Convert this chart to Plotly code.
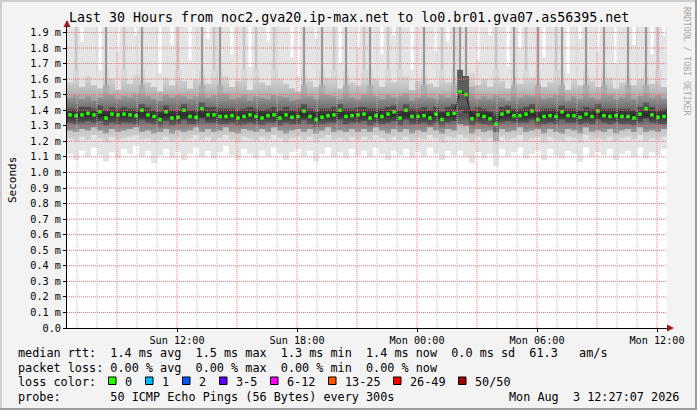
import pandas as pd
import plotly.graph_objects as go

# ---------------- data (values in milliseconds) ----------------
# 100 buckets of 18 minutes, Sun 06:30 .. Mon 12:30
median = [1.37, 1.365, 1.37, 1.38, 1.37, 1.39, 1.35, 1.375, 1.37, 1.375,
          1.37, 1.365, 1.40, 1.37, 1.36, 1.34, 1.39, 1.35, 1.355, 1.40,
          1.36, 1.355, 1.41, 1.37, 1.37, 1.36, 1.36, 1.365, 1.35, 1.36,
          1.37, 1.36, 1.35, 1.365, 1.37, 1.35, 1.37, 1.355, 1.36, 1.395,
          1.36, 1.34, 1.355, 1.365, 1.37, 1.40, 1.36, 1.365, 1.37, 1.375,
          1.35, 1.365, 1.36, 1.375, 1.39, 1.35, 1.40, 1.36, 1.36, 1.365,
          1.35, 1.375, 1.34, 1.375, 1.38, 1.52, 1.50, 1.345, 1.37, 1.36,
          1.345, 1.31, 1.375, 1.39, 1.365, 1.365, 1.375, 1.395, 1.34, 1.36,
          1.365, 1.36, 1.39, 1.365, 1.365, 1.355, 1.375, 1.36, 1.395, 1.365,
          1.36, 1.365, 1.36, 1.36, 1.35, 1.375, 1.41, 1.37, 1.355, 1.36]

# outer smoke: lowest / highest ping
ping_min = [1.12, 1.08, 1.14, 1.10, 1.16, 1.11, 1.07, 1.13, 1.09, 1.15,
            1.12, 1.17, 1.10, 1.14, 1.06, 1.11, 1.15, 1.09, 1.13, 1.08,
            1.12, 1.16, 1.10, 1.14, 1.09, 1.13, 1.17, 1.11, 1.08, 1.15,
            1.12, 1.09, 1.14, 1.10, 1.16, 1.12, 1.08, 1.13, 1.15, 1.10,
            1.14, 1.07, 1.12, 1.16, 1.10, 1.13, 1.09, 1.15, 1.11, 1.14,
            1.10, 1.16, 1.12, 1.08, 1.14, 1.11, 1.15, 1.09, 1.13, 1.10,
            1.16, 1.12, 1.08, 1.14, 1.11, 1.14, 1.10, 1.06, 1.13, 1.09,
            1.12, 1.04, 1.15, 1.10, 1.13, 1.16, 1.09, 1.12, 1.14, 1.08,
            1.15, 1.11, 1.09, 1.14, 1.12, 1.07, 1.16, 1.10, 1.13, 1.11,
            1.15, 1.08, 1.12, 1.14, 1.10, 1.16, 1.09, 1.13, 1.11, 1.15]
ping_max = [1.95, 1.95, 1.84, 1.95, 1.95, 1.66, 1.95, 1.95, 1.78, 1.95,
            1.95, 1.88, 1.95, 1.95, 1.95, 1.64, 1.95, 1.82, 1.95, 1.95,
            1.72, 1.95, 1.95, 1.86, 1.95, 1.95, 1.95, 1.76, 1.95, 1.95,
            1.68, 1.95, 1.95, 1.84, 1.95, 1.95, 1.95, 1.74, 1.62, 1.95,
            1.95, 1.86, 1.95, 1.95, 1.95, 1.70, 1.95, 1.95, 1.80, 1.95,
            1.95, 1.95, 1.76, 1.95, 1.88, 1.95, 1.95, 1.66, 1.95, 1.95,
            1.95, 1.78, 1.95, 1.84, 1.95, 1.95, 1.95, 1.95, 1.72, 1.95,
            1.88, 1.95, 1.95, 1.68, 1.95, 1.80, 1.95, 1.95, 1.95, 1.74,
            1.95, 1.95, 1.95, 1.64, 1.95, 1.86, 1.95, 1.95, 1.78, 1.95,
            1.95, 1.70, 1.95, 1.95, 1.82, 1.95, 1.95, 1.76, 1.95, 1.88]

# second smoke layer
p10 = [1.22, 1.20, 1.23, 1.21, 1.24, 1.22, 1.19, 1.23, 1.21, 1.22,
       1.23, 1.24, 1.21, 1.22, 1.19, 1.21, 1.23, 1.20, 1.22, 1.20,
       1.22, 1.24, 1.21, 1.23, 1.20, 1.22, 1.24, 1.21, 1.19, 1.23,
       1.22, 1.20, 1.23, 1.21, 1.24, 1.22, 1.19, 1.22, 1.23, 1.21,
       1.23, 1.19, 1.22, 1.24, 1.21, 1.22, 1.20, 1.23, 1.21, 1.23,
       1.21, 1.24, 1.22, 1.20, 1.23, 1.21, 1.23, 1.20, 1.22, 1.21,
       1.24, 1.22, 1.19, 1.23, 1.22, 1.24, 1.22, 1.19, 1.23, 1.20,
       1.22, 1.12, 1.23, 1.21, 1.22, 1.24, 1.20, 1.22, 1.23, 1.19,
       1.23, 1.21, 1.20, 1.23, 1.22, 1.19, 1.24, 1.21, 1.22, 1.21,
       1.23, 1.20, 1.22, 1.23, 1.21, 1.24, 1.20, 1.22, 1.21, 1.23]
p90 = [1.58, 1.95, 1.55, 1.62, 1.56, 1.54, 1.95, 1.60, 1.53, 1.95,
       1.57, 1.63, 1.95, 1.58, 1.55, 1.52, 1.61, 1.56, 1.95, 1.59,
       1.54, 1.60, 1.95, 1.57, 1.95, 1.95, 1.62, 1.55, 1.59, 1.95,
       1.53, 1.95, 1.58, 1.56, 1.95, 1.60, 1.57, 1.54, 1.52, 1.95,
       1.59, 1.55, 1.95, 1.61, 1.95, 1.54, 1.95, 1.58, 1.56, 1.95,
       1.95, 1.60, 1.55, 1.95, 1.58, 1.95, 1.62, 1.53, 1.59, 1.95,
       1.57, 1.55, 1.95, 1.58, 1.95, 1.95, 1.95, 1.64, 1.56, 1.60,
       1.55, 1.95, 1.59, 1.54, 1.95, 1.57, 1.95, 1.61, 1.95, 1.55,
       1.58, 1.95, 1.95, 1.53, 1.60, 1.56, 1.95, 1.59, 1.55, 1.95,
       1.61, 1.54, 1.58, 1.95, 1.56, 1.60, 1.95, 1.57, 1.95, 1.55]

# third smoke layer
p25 = [1.27, 1.26, 1.28, 1.27, 1.29, 1.27, 1.25, 1.28, 1.26, 1.27,
       1.28, 1.29, 1.26, 1.27, 1.25, 1.26, 1.28, 1.25, 1.27, 1.26,
       1.27, 1.29, 1.26, 1.28, 1.26, 1.27, 1.29, 1.26, 1.25, 1.28,
       1.27, 1.26, 1.28, 1.26, 1.29, 1.27, 1.25, 1.27, 1.28, 1.26,
       1.28, 1.25, 1.27, 1.29, 1.26, 1.27, 1.26, 1.28, 1.26, 1.28,
       1.26, 1.29, 1.27, 1.25, 1.28, 1.26, 1.28, 1.25, 1.27, 1.26,
       1.29, 1.27, 1.25, 1.28, 1.27, 1.31, 1.30, 1.25, 1.28, 1.26,
       1.27, 1.20, 1.28, 1.26, 1.27, 1.29, 1.26, 1.27, 1.28, 1.25,
       1.28, 1.26, 1.25, 1.28, 1.27, 1.25, 1.29, 1.26, 1.27, 1.26,
       1.28, 1.25, 1.27, 1.28, 1.26, 1.29, 1.26, 1.27, 1.26, 1.28]
p75 = [1.48, 1.50, 1.47, 1.49, 1.46, 1.48, 1.95, 1.50, 1.47, 1.49,
       1.48, 1.51, 1.95, 1.49, 1.47, 1.46, 1.50, 1.48, 1.50, 1.49,
       1.47, 1.49, 1.95, 1.48, 1.50, 1.95, 1.51, 1.47, 1.48, 1.50,
       1.46, 1.49, 1.48, 1.47, 1.50, 1.49, 1.48, 1.46, 1.47, 1.95,
       1.49, 1.47, 1.95, 1.50, 1.49, 1.47, 1.95, 1.48, 1.47, 1.50,
       1.95, 1.49, 1.47, 1.50, 1.48, 1.49, 1.51, 1.46, 1.48, 1.95,
       1.48, 1.47, 1.50, 1.48, 1.95, 1.95, 1.95, 1.55, 1.47, 1.49,
       1.47, 1.50, 1.48, 1.46, 1.95, 1.48, 1.50, 1.49, 1.95, 1.47,
       1.48, 1.50, 1.95, 1.46, 1.49, 1.47, 1.95, 1.48, 1.47, 1.95,
       1.50, 1.47, 1.48, 1.95, 1.47, 1.49, 1.95, 1.48, 1.50, 1.47]

# dark core around the median
p40 = [1.32, 1.31, 1.32, 1.33, 1.32, 1.33, 1.30, 1.32, 1.31, 1.32,
       1.32, 1.31, 1.34, 1.32, 1.31, 1.29, 1.33, 1.30, 1.31, 1.34,
       1.31, 1.31, 1.35, 1.32, 1.32, 1.31, 1.31, 1.32, 1.30, 1.31,
       1.32, 1.31, 1.30, 1.32, 1.32, 1.30, 1.32, 1.31, 1.31, 1.34,
       1.31, 1.29, 1.31, 1.32, 1.32, 1.34, 1.31, 1.32, 1.32, 1.33,
       1.30, 1.32, 1.31, 1.32, 1.33, 1.30, 1.34, 1.31, 1.31, 1.32,
       1.30, 1.32, 1.29, 1.32, 1.33, 1.40, 1.38, 1.30, 1.32, 1.31,
       1.30, 1.26, 1.32, 1.33, 1.32, 1.32, 1.32, 1.34, 1.29, 1.31,
       1.32, 1.31, 1.34, 1.32, 1.32, 1.31, 1.32, 1.31, 1.34, 1.32,
       1.31, 1.32, 1.31, 1.31, 1.30, 1.32, 1.35, 1.32, 1.31, 1.31]
p60 = [1.41, 1.41, 1.42, 1.42, 1.41, 1.43, 1.40, 1.42, 1.41, 1.42,
       1.41, 1.41, 1.44, 1.42, 1.40, 1.39, 1.43, 1.40, 1.40, 1.44,
       1.40, 1.40, 1.45, 1.42, 1.42, 1.41, 1.41, 1.41, 1.40, 1.41,
       1.42, 1.41, 1.40, 1.41, 1.42, 1.40, 1.42, 1.40, 1.41, 1.44,
       1.41, 1.39, 1.41, 1.41, 1.42, 1.44, 1.41, 1.41, 1.42, 1.42,
       1.41, 1.41, 1.41, 1.42, 1.43, 1.40, 1.44, 1.41, 1.41, 1.42,
       1.40, 1.42, 1.39, 1.42, 1.44, 1.66, 1.62, 1.40, 1.42, 1.41,
       1.39, 1.36, 1.42, 1.43, 1.41, 1.41, 1.42, 1.44, 1.39, 1.41,
       1.41, 1.41, 1.43, 1.41, 1.41, 1.40, 1.42, 1.41, 1.44, 1.41,
       1.41, 1.41, 1.41, 1.41, 1.40, 1.42, 1.45, 1.42, 1.40, 1.41]

y_tick_values = [0.0, 0.1, 0.2, 0.3, 0.4, 0.5, 0.6, 0.7, 0.8, 0.9,
                 1.0, 1.1, 1.2, 1.3, 1.4, 1.5, 1.6, 1.7, 1.8, 1.9]
y_tick_labels = ["0.0", "0.1 m", "0.2 m", "0.3 m", "0.4 m", "0.5 m", "0.6 m",
                 "0.7 m", "0.8 m", "0.9 m", "1.0 m", "1.1 m", "1.2 m", "1.3 m",
                 "1.4 m", "1.5 m", "1.6 m", "1.7 m", "1.8 m", "1.9 m"]
x_tick_times = ["2026-08-02 12:00", "2026-08-02 18:00", "2026-08-03 00:00",
                "2026-08-03 06:00", "2026-08-03 12:00"]
x_tick_labels = ["Sun 12:00", "Sun 18:00", "Mon 00:00", "Mon 06:00", "Mon 12:00"]

rtt_stats = [1.4, 1.5, 1.3, 1.4]      # avg, max, min, now
rtt_sd = 0.0
rtt_ams = 61.3
loss_stats = [0.00, 0.00, 0.00, 0.00]  # avg, max, min, now
loss_labels = ["0", "1", "2", "3-5", "6-12", "13-25", "26-49", "50/50"]
loss_colors = ["#26ff00", "#00b8ff", "#0059ff", "#5e00ff",
               "#ff00ff", "#ff5500", "#ff0000", "#a10000"]

# ---------------- geometry ----------------
W, H = 697, 410
PL, PR, PT, PB = 67, 667, 27, 328
TOP = 1.95
start = pd.Timestamp("2026-08-02 06:30")
end = start + pd.Timedelta(hours=30)
step = pd.Timedelta(minutes=18)
n = len(median)
t = [start + step * i + step / 2 for i in range(n)]
edges = [start + step * i for i in range(n + 1)]
MONO = "DejaVu Sans Mono"


def px(x):
    return (x - PL) / (PR - PL)


def py(y):
    return (PB - y) / (PB - PT)


def nb(s):
    return s.replace(" ", "\u00a0")


fig = go.Figure()


def band(lo, hi, scale, y0, y1):
    fig.add_trace(go.Scatter(x=edges, y=lo + lo[-1:], mode="lines",
                             line=dict(width=0, shape="hv"), hoverinfo="skip"))
    fig.add_trace(go.Scatter(x=edges, y=hi + hi[-1:], mode="lines",
                             line=dict(width=0, shape="hv"), fill="tonexty",
                             fillgradient=dict(type="vertical", colorscale=scale,
                                               start=y0, stop=y1),
                             hoverinfo="skip"))


def streaks(base, hi, color, w=2.5):
    # thin vertical strokes where a bucket's value pokes out beyond the band
    xs, ys = [], []
    for i in range(n):
        if hi[i] > base[i]:
            xs += [t[i], t[i], None]
            ys += [base[i], hi[i], None]
    fig.add_trace(go.Scatter(x=xs, y=ys, mode="lines",
                             line=dict(color=color, width=w), hoverinfo="skip"))


# outer smoke, narrow white gaps where the highest ping stays below the top
band(ping_min, [TOP] * n, [[0, "#e4e4e4"], [1, "#e4e4e4"]], 1.0, 1.9)
streaks(ping_max, [TOP] * n, "#ffffff", 3)

cap90 = [min(v, 1.66) for v in p90]
band(p10, cap90, [[0, "#dcdcdc"], [0.3, "#bdbdbd"], [0.55, "#8a8a8a"],
                  [0.8, "#bdbdbd"], [1, "#d8d8d8"]], 1.17, 1.62)
streaks(cap90, p90, "#c6c6c6")

cap75 = [min(v, 1.56) for v in p75]
band(p25, cap75, [[0, "#a8a8a8"], [0.45, "#525252"], [1, "#acacac"]], 1.24, 1.52)
streaks(cap75, p75, "#999999", 2)

band(p40, p60, [[0, "#686868"], [0.5, "#2e2e2e"], [1, "#5c5c5c"]], 1.30, 1.44)

fig.add_trace(go.Scatter(
    x=t, y=median, mode="lines+markers",
    line=dict(color="#222222", width=1),
    marker=dict(symbol="square", size=3.5, color="#22ff00", line_width=0),
))

shapes = []
# grid drawn on top of the smoke like rrdtool does
for v in y_tick_values[1:]:
    shapes.append(dict(type="line", xref="paper", yref="y", x0=0, x1=1, y0=v, y1=v,
                       line=dict(color="#ff6a6a", width=1, dash="1px,1px"), layer="above"))
for h in range(1, 31):
    ts = start + pd.Timedelta(minutes=30) + pd.Timedelta(hours=h - 1)
    if ts >= end:
        break
    major = ts.hour % 3 == 0
    shapes.append(dict(type="line", xref="x", yref="paper", x0=ts, x1=ts, y0=0, y1=1,
                       line=dict(color="#ff7a7a" if major else "#c4c4c4", width=1,
                                 dash="1px,1px"), layer="above"))

# axis arrows
shapes.append(dict(type="line", xref="paper", yref="paper", x0=0, x1=0, y0=1, y1=py(21),
                   line=dict(color="#000", width=1)))
shapes.append(dict(type="path", xref="paper", yref="paper",
                   path=f"M {px(63.5)} {py(27)} L {px(70.5)} {py(27)} L {px(67)} {py(20)} Z",
                   fillcolor="#9b1c1c", line_width=0))
shapes.append(dict(type="path", xref="paper", yref="paper",
                   path=f"M {px(667)} {py(324.5)} L {px(667)} {py(331.5)} L {px(674)} {py(328)} Z",
                   fillcolor="#9b1c1c", line_width=0))

# image frame
for x0, y0, x1, y1, c in [(0, 0, W, 2, "#cfcfcf"), (0, 0, 2, H, "#cfcfcf"),
                          (0, H - 2, W, H, "#9e9e9e"), (W - 2, 0, W, H, "#9e9e9e")]:
    shapes.append(dict(type="rect", xref="paper", yref="paper",
                       x0=px(x0), x1=px(x1), y0=py(y1), y1=py(y0),
                       fillcolor=c, line_width=0, layer="below"))

# loss colour swatches
swatch_x = [108, 145, 182, 219, 270, 328, 393, 458]
for sx, c in zip(swatch_x, loss_colors):
    shapes.append(dict(type="rect", xref="paper", yref="paper",
                       x0=px(sx + 0.5), x1=px(sx + 8), y0=py(384.5), y1=py(377),
                       fillcolor=c, line=dict(color="#000", width=1)))

ann = []


def text(x, y, s, anchor="left", size=11.8, color="#000", angle=0):
    ann.append(dict(x=px(x), y=py(y), xref="paper", yref="paper", text=nb(s),
                    showarrow=False, xanchor=anchor, yanchor="middle", textangle=angle,
                    font=dict(family=MONO, size=size, color=color)))


text(W / 2, 17, "Last 30 Hours from noc2.gva20.ip-max.net to lo0.br01.gva07.as56395.net",
     anchor="center", size=13.3)
text(12, 180, "Seconds", anchor="center", size=11, angle=-90)
text(687, 61, "RRDTOOL / TOBI OETIKER", anchor="center", size=8.2, color="#a8a8a8", angle=90)

row1 = ("median rtt:  " + "  ".join(f"{v:.1f} ms {k}" for v, k in
                                     zip(rtt_stats, ["avg", "max", "min", "now"]))
        + f"  {rtt_sd:.1f} ms sd  {rtt_ams:.1f}   am/s")
row2 = "packet loss: " + "  ".join(f"{v:.2f} % {k}" for v, k in
                                  zip(loss_stats, ["avg", "max", "min", "now"]))
text(16, 353, row1)
text(16, 367.5, row2)
text(16, 381.5, "loss color:")
for sx, lab in zip(swatch_x, loss_labels):
    text(sx + 15, 381.5, lab)
text(16, 396.5, "probe:       50 ICMP Echo Pings (56 Bytes) every 300s")
text(681, 396.5, "Mon Aug  3 12:27:07 2026", anchor="right")

fig.update_layout(
    width=W, height=H,
    margin=dict(l=PL, r=W - PR, t=PT, b=H - PB, pad=0),
    paper_bgcolor="#f3f3f3", plot_bgcolor="#ffffff",
    showlegend=False,
    font=dict(family=MONO, size=10.2, color="#000"),
    shapes=shapes, annotations=ann,
    xaxis=dict(type="date", range=[start, end], showgrid=False, zeroline=False,
               tickvals=x_tick_times, ticktext=[nb(s) for s in x_tick_labels],
               ticks="outside", ticklen=3, tickcolor="#000",
               showline=True, linecolor="#000", linewidth=1,
               tickfont=dict(family=MONO, size=10.2), automargin=False, fixedrange=True),
    yaxis=dict(range=[0, 1.935], showgrid=False, zeroline=False,
               tickvals=y_tick_values, ticktext=[nb(s) for s in y_tick_labels],
               ticks="outside", ticklen=3, tickcolor="#000",
               showline=True, linecolor="#000", linewidth=1,
               tickfont=dict(family=MONO, size=10.2), automargin=False, fixedrange=True),
)

fig.write_html("out.html", config={"displayModeBar": False},
               post_script="document.body.style.margin='0';document.body.style.overflow='hidden';")
